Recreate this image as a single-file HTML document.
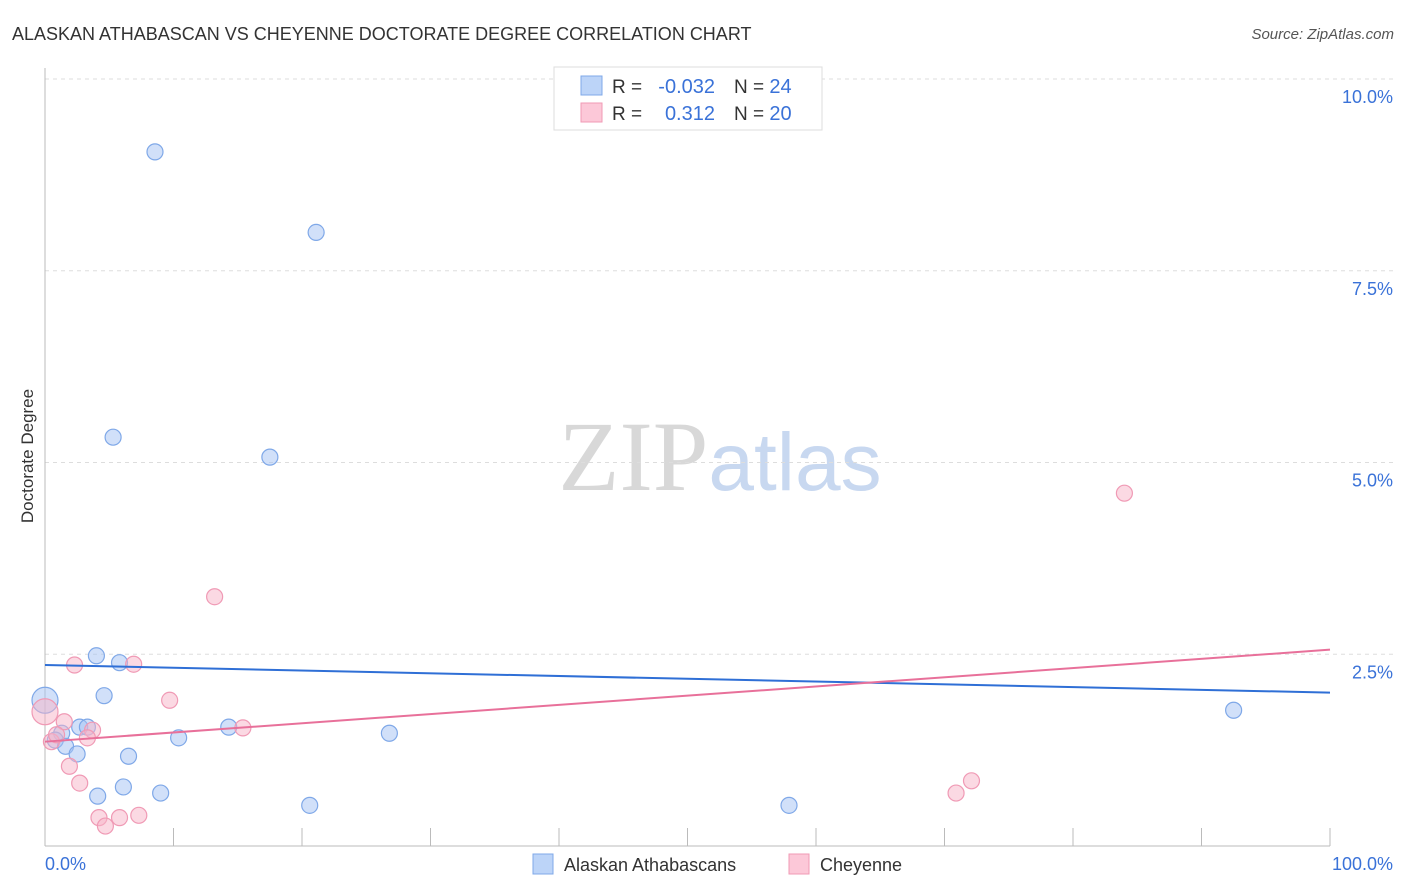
<!DOCTYPE html>
<html><head><meta charset="utf-8"><style>
body{margin:0;background:#fff;font-family:"Liberation Sans",sans-serif;}
svg{display:block}
</style></head><body>
<svg id="chart" width="1406" height="892" xmlns="http://www.w3.org/2000/svg">
<text x="12" y="40" font-size="18" fill="#333">ALASKAN ATHABASCAN VS CHEYENNE DOCTORATE DEGREE CORRELATION CHART</text>
<text x="1394" y="39" font-size="15" fill="#555" text-anchor="end" font-style="italic">Source: ZipAtlas.com</text>
<text x="720" y="490" font-size="100" text-anchor="middle"><tspan font-family="Liberation Serif" fill="#d8d8d8">ZIP</tspan><tspan fill="#c8d8f0" font-size="82">atlas</tspan></text>
<text transform="translate(33,456) rotate(-90)" font-size="17" fill="#333" text-anchor="middle">Doctorate Degree</text>
<g id="grid"></g>
<g id="axes"></g>
<g id="marks"></g>
<g>
<rect x="554" y="67" width="268" height="63" fill="#fff" stroke="#ddd"/>
<rect x="581" y="76" width="21" height="19" fill="#bcd4f8" stroke="#7fa8e8"/>
<rect x="581" y="103" width="21" height="19" fill="#fcc8d8" stroke="#f09ab5"/>
<text x="612" y="93" font-size="19" fill="#333">R = </text>
<text x="715" y="93" font-size="20" fill="#3a72d8" text-anchor="end">-0.032</text>
<text x="734" y="93" font-size="19" fill="#333">N = <tspan fill="#3a72d8" font-size="20">24</tspan></text>
<text x="612" y="120" font-size="19" fill="#333">R = </text>
<text x="715" y="120" font-size="20" fill="#3a72d8" text-anchor="end">0.312</text>
<text x="734" y="120" font-size="19" fill="#333">N = <tspan fill="#3a72d8" font-size="20">20</tspan></text>
</g>
<g>
<rect x="533" y="854" width="20" height="20" fill="#bcd4f8" stroke="#7fa8e8"/>
<text x="564" y="871" font-size="18" fill="#333">Alaskan Athabascans</text>
<rect x="789" y="854" width="20" height="20" fill="#fcc8d8" stroke="#f09ab5"/>
<text x="820" y="871" font-size="18" fill="#333">Cheyenne</text>
</g>
</svg>
<script>
const blueX=[8.56,21.1,5.3,17.5,4.0,5.8,4.6,0,2.7,3.3,1.3,0.8,1.6,2.5,6.5,10.4,14.3,26.8,6.1,4.1,9.0,20.6,57.9,92.5];
const blueY=[9.05,8.0,5.33,5.07,2.48,2.39,1.96,1.9,1.55,1.55,1.47,1.38,1.3,1.2,1.17,1.41,1.55,1.47,0.77,0.65,0.69,0.53,0.53,1.77];
const pinkX=[84.0,13.2,2.3,6.9,9.7,0,1.5,3.7,3.3,15.4,0.5,1.9,2.7,4.2,4.7,5.8,7.3,70.9,72.1,0.9];
const pinkY=[4.6,3.25,2.36,2.37,1.9,1.75,1.62,1.51,1.41,1.54,1.36,1.04,0.82,0.37,0.26,0.37,0.4,0.69,0.85,1.45];
const blueTrend=[2.36,2.0];
const pinkTrend=[1.36,2.56];
const yTicks=[2.5,5,7.5,10];
const yTickLabels=["2.5%","5.0%","7.5%","10.0%"];
const NS="http://www.w3.org/2000/svg";
const sx=v=>45+v*12.85;
const sy=v=>846-v*76.7;
function mk(t,a,p){const e=document.createElementNS(NS,t);for(const k in a)e.setAttribute(k,a[k]);p.appendChild(e);return e;}
const grid=document.getElementById('grid'),axes=document.getElementById('axes'),marks=document.getElementById('marks');
yTicks.forEach((v,i)=>{
 const l=mk('line',{x1:45,x2:1395,y1:sy(v),y2:sy(v),stroke:'#ddd','stroke-dasharray':'4,4'},grid);
 
 
 const t=mk('text',{x:1393,y:sy(v)+24,'font-size':18,fill:'#3a72d8','text-anchor':'end'},axes);
 t.textContent=yTickLabels[i];
 
 
});
mk('line',{x1:45,x2:45,y1:68,y2:846,stroke:'#bbb'},axes);
mk('line',{x1:45,x2:1330,y1:846,y2:846,stroke:'#bbb'},axes);
for(let k=1;k<=10;k++){mk('line',{x1:sx(k*10),x2:sx(k*10),y1:828,y2:846,stroke:'#bbb'},axes);}
const x0=mk('text',{x:45,y:870,'font-size':18,fill:'#3a72d8'},axes);x0.textContent="0.0%";


const x1=mk('text',{x:1393,y:870,'font-size':18,fill:'#3a72d8','text-anchor':'end'},axes);x1.textContent="100.0%";


function pts(X,Y,fill,stroke,name){X.forEach((x,i)=>{const r=x===0?13:8;
 const c=mk('circle',{cx:sx(x),cy:sy(Y[i]),r:r,fill:fill,stroke:stroke,'stroke-width':1.2},marks);
 
 });}
pts(blueX,blueY,'rgba(164,194,244,0.5)','#7fa8e8','blue-point');
pts(pinkX,pinkY,'rgba(248,180,200,0.5)','#f09ab5','pink-point');
const bl=mk('line',{x1:sx(0),x2:sx(100),y1:sy(blueTrend[0]),y2:sy(blueTrend[1]),stroke:'#2f6fd6','stroke-width':2},marks);


const pl=mk('line',{x1:sx(0),x2:sx(100),y1:sy(pinkTrend[0]),y2:sy(pinkTrend[1]),stroke:'#e8709a','stroke-width':2},marks);


</script>
</body></html>
